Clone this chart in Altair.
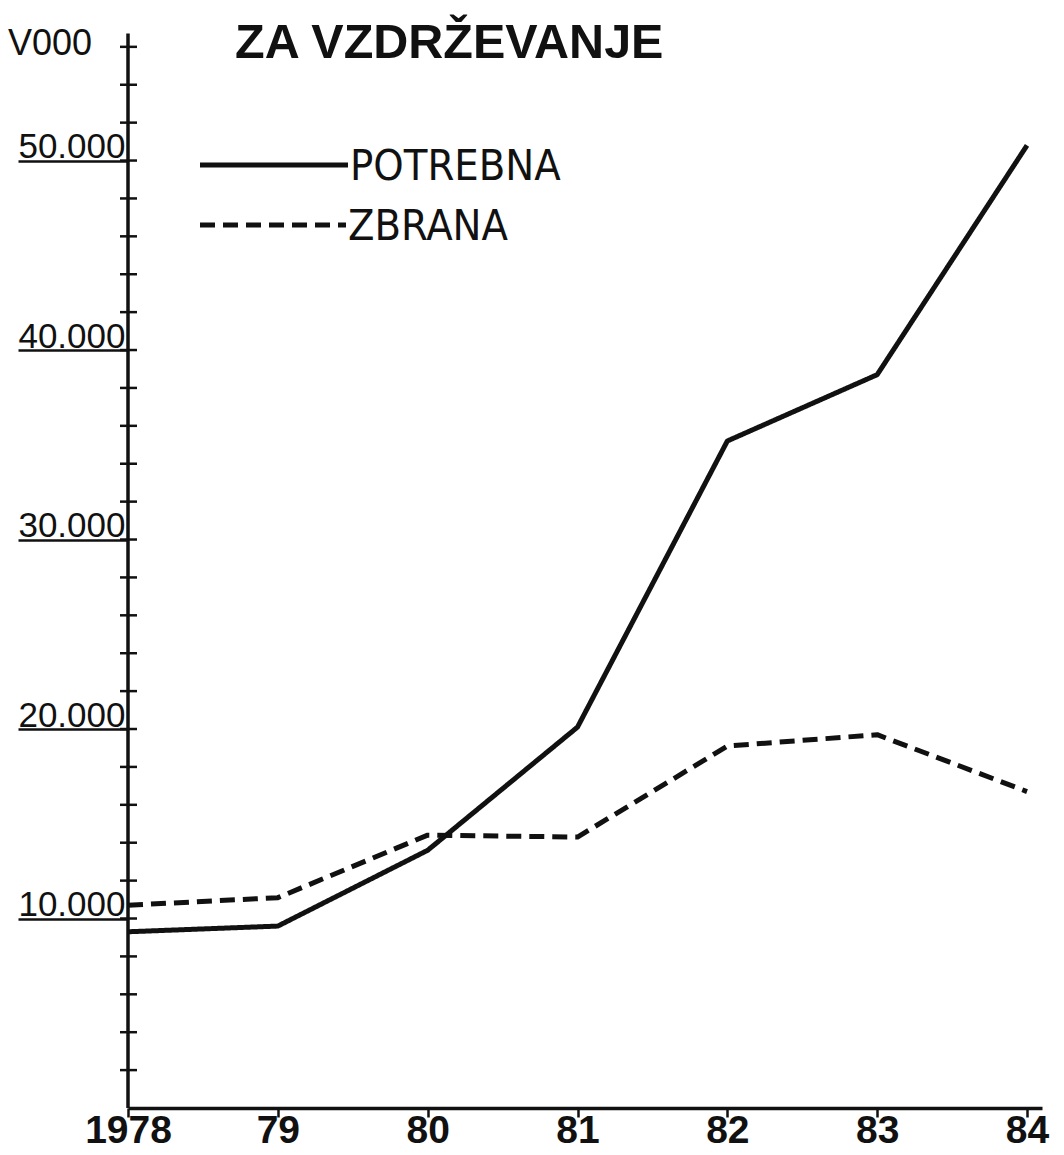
import altair as alt
import pandas as pd

# ---- data ----
years = [1978, 1979, 1980, 1981, 1982, 1983, 1984]
year_labels = ["1978", "79", "80", "81", "82", "83", "84"]
potrebna = [9300, 9600, 13600, 20100, 35200, 38700, 50800]
zbrana = [10700, 11100, 14400, 14300, 19100, 19700, 16700]
series_names = ["POTREBNA", "ZBRANA"]
y_label_values = [10000, 20000, 30000, 40000, 50000]
y_minor_ticks = [2000, 4000, 6000, 8000, 10000, 12000, 14000, 16000, 18000,
                 20000, 22000, 24000, 26000, 28000, 30000, 32000, 34000,
                 36000, 38000, 40000, 42000, 44000, 46000, 48000, 50000,
                 52000, 54000, 56000]
axis_top_value = 56700
title_text = "ZA VZDRŽEVANJE"
unit_text = "V000"

rows = []
for name, vals in zip(series_names, [potrebna, zbrana]):
    for y, v in zip(years, vals):
        rows.append({"year": y, "value": v, "series": name})
df = pd.DataFrame(rows)

W, H = 914, 1100
INK = "#111111"
FONT = "Liberation Sans"
COND = "DejaVu Sans Condensed, Liberation Sans"

xscale = alt.Scale(domain=[1978, 1984.1], nice=False, zero=False)
yscale = alt.Scale(domain=[0, 58050], nice=False, zero=True)

year_expr = " : ".join(
    f"datum.value == {y} ? '{lab}'" for y, lab in zip(years, year_labels)
) + " : ''"

yaxis = alt.Axis(
    values=y_label_values,
    labelExpr="replace(format(datum.value, ','), ',', '.')",
    title=None, grid=False, domain=False,
    tickSize=110, tickWidth=2.5, tickColor=INK,
    labelFont=FONT, labelFontSize=35, labelColor=INK,
    labelPadding=-107, labelAlign="right", labelBaseline="alphabetic",
    labelOffset=-3, labelFlush=False, labelOverlap=False)

xaxis = alt.Axis(
    values=years, labelExpr=year_expr, title=None, grid=False,
    tickSize=9, tickWidth=2.5, tickColor=INK,
    domainColor=INK, domainWidth=3.5,
    labelFont=FONT, labelFontSize=39, labelFontWeight="bold",
    labelColor=INK, labelPadding=-6, labelFlush=False, labelOverlap=False)

lines = alt.Chart(df).mark_line(
    strokeWidth=5, color=INK, strokeJoin="round", strokeCap="butt"
).encode(
    x=alt.X("year:Q", scale=xscale, axis=xaxis),
    y=alt.Y("value:Q", scale=yscale, axis=yaxis),
    strokeDash=alt.StrokeDash("series:N", scale=alt.Scale(
        domain=series_names, range=[[1, 0], [15, 8]]), legend=None),
)

# vertical axis line up to its drawn top
axis_line = alt.Chart(pd.DataFrame({"lo": [0], "hi": [axis_top_value]})).mark_rule(
    color=INK, strokeWidth=3.5
).encode(
    x=alt.value(0),
    y=alt.Y("lo:Q", scale=yscale, axis=yaxis),
    y2="hi:Q",
)

ticks = alt.Chart(pd.DataFrame({"t": y_minor_ticks})).mark_rule(
    color=INK, strokeWidth=2.5
).encode(
    y=alt.Y("t:Q", scale=yscale, axis=yaxis),
    x=alt.value(-8), x2=alt.value(9),
)

title = alt.Chart(pd.DataFrame({"t": [title_text]})).mark_text(
    font=FONT, fontSize=48.5, fontWeight="bold", color=INK,
    align="left", baseline="alphabetic"
).encode(x=alt.value(107), y=alt.value(50), text="t:N")

unit = alt.Chart(pd.DataFrame({"t": [unit_text]})).mark_text(
    font=FONT, fontSize=36, color=INK, align="left", baseline="alphabetic"
).encode(x=alt.value(-120), y=alt.value(47), text="t:N")

legend_layers = []
dashes = [[1, 0], [15, 8]]
for i, name in enumerate(series_names):
    ly = 157 + i * 60
    legend_layers.append(
        alt.Chart(pd.DataFrame({"s": [name]})).mark_rule(
            color=INK, strokeWidth=5, strokeDash=dashes[i], strokeCap="butt"
        ).encode(x=alt.value(72), x2=alt.value(220 - 2 * i), y=alt.value(ly))
    )
    legend_layers.append(
        alt.Chart(pd.DataFrame({"s": [name]})).mark_text(
            font=COND, fontSize=43, color=INK,
            align="left", baseline="alphabetic"
        ).encode(x=alt.value(222 - 2 * i), y=alt.value(ly + 15), text="s:N")
    )

chart = alt.layer(lines, axis_line, ticks, title, unit, *legend_layers).properties(
    width=W, height=H,
    padding={"left": 120, "top": 0, "right": 14, "bottom": 44},
    autosize=alt.AutoSizeParams(type="none"),
    background="white",
).configure_view(stroke=None)

chart.save("out.html", embed_options={"renderer": "svg", "actions": False})
